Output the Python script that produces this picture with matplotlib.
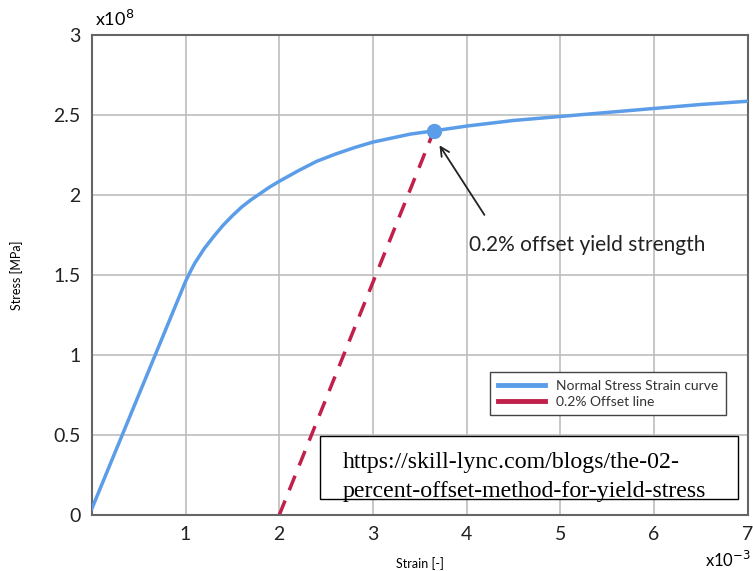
import numpy as np
import matplotlib.pyplot as plt
from matplotlib.lines import Line2D
from matplotlib.patches import Rectangle

# strain in units of 1e-3, stress in units of 1e8
strain = [0.0, 0.5, 1.0, 1.05, 1.1, 1.2, 1.3, 1.4, 1.5, 1.6, 1.7, 1.8, 1.9, 2.0,
          2.2, 2.4, 2.6, 2.8, 3.0, 3.2, 3.4, 3.65, 4.0, 4.5, 5.0, 5.5, 6.0, 6.5, 7.0]
stress = [0.04, 0.75, 1.46, 1.52, 1.575, 1.665, 1.74, 1.81, 1.87, 1.925, 1.97, 2.01, 2.05, 2.085,
          2.15, 2.21, 2.255, 2.295, 2.33, 2.355, 2.38, 2.40, 2.43, 2.465, 2.49, 2.515, 2.54, 2.565, 2.585]

offset_strain = [2.0, 3.65]
offset_stress = [0.0, 2.40]

yield_pt = (3.65, 2.40)

source_lines = ['https://skill-lync.com/blogs/the-02-',
                'percent-offset-method-for-yield-stress']

blue = '#5b9de8'
red = '#c0204a'

plt.rcParams['font.family'] = ['Lato', 'DejaVu Sans']

fig = plt.figure(figsize=(7.53, 5.71), dpi=100)
ax = fig.add_axes([0.122, 0.098, 0.871, 0.841])

ax.plot(strain, stress, color=blue, lw=2.5, zorder=3)
ax.plot(offset_strain, offset_stress, color=red, lw=2.5, ls=(0, (4.5, 3.2)), zorder=2)
ax.plot(*yield_pt, 'o', color=blue, ms=10, zorder=4)

# annotation
ax.annotate('', xy=(3.71, 2.31), xytext=(4.19, 1.875),
            arrowprops=dict(arrowstyle='->', color='#222222', lw=1.3,
                            shrinkA=0, shrinkB=0, mutation_scale=16))
ax.text(4.02, 1.69, '0.2% offset yield strength', fontsize=15, ha='left', va='center',
        color='#222222')

ax.set_xlim(0, 7)
ax.set_ylim(0, 3)
ax.set_xticks([1, 2, 3, 4, 5, 6, 7])
ax.set_yticks([0, 0.5, 1, 1.5, 2, 2.5, 3])
ax.set_yticklabels(['0', '0.5', '1', '1.5', '2', '2.5', '3'])
ax.tick_params(length=0, labelsize=14, pad=8, colors='#222222')
ax.grid(True, color='#bdbdbd', lw=1.2)
for s in ax.spines.values():
    s.set_color('#666666')
    s.set_linewidth(1.5)

ax.set_xlabel('Strain [-]', fontsize=9, labelpad=10)
ax.set_ylabel('Stress [MPa]', fontsize=9, labelpad=22)
ax.text(0.005, 1.012, r'x10$^{8}$', transform=ax.transAxes, fontsize=13, va='bottom')
fig.text(0.997, 0.002, r'x10$^{-3}$', fontsize=12, ha='right', va='bottom')

handles = [Line2D([], [], color=blue, lw=3.5), Line2D([], [], color=red, lw=3.5)]
leg = ax.legend(handles, ['Normal Stress Strain curve', '0.2% Offset line'],
                loc='lower right', bbox_to_anchor=(0.978, 0.193), fontsize=10,
                fancybox=False, edgecolor='#444444', framealpha=1, handlelength=3.4,
                borderpad=0.55, labelspacing=0.3, handletextpad=0.8)
leg.get_frame().set_linewidth(1.0)
for t in leg.get_texts():
    t.set_color('#333333')

# source box (text overflows and is clipped at the bottom edge)
box = Rectangle((0.348, 0.033), 0.637, 0.1316, transform=ax.transAxes,
                facecolor='white', edgecolor='black', lw=1.0, zorder=10)
ax.add_patch(box)
for line, yb in zip(source_lines, [0.098, 0.0375]):
    t = ax.text(0.382, yb, line, transform=ax.transAxes, fontsize=17.2,
                family='Liberation Serif', va='baseline', ha='left', zorder=11)
    t.set_clip_path(box)

fig.savefig('out.png', dpi=100)
